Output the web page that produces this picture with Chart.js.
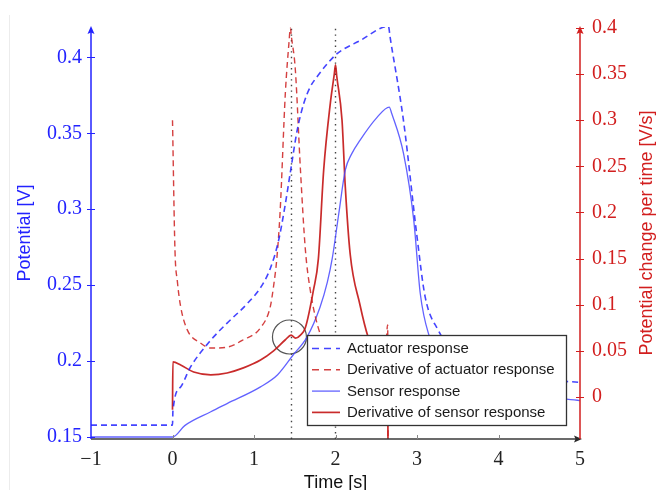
<!DOCTYPE html>
<html><head><meta charset="utf-8">
<script src="https://cdn.jsdelivr.net/npm/chart.js@4.4.1/dist/chart.umd.min.js"></script>
<style>html,body{margin:0;padding:0;background:#fff;}canvas{display:block;}</style>
</head><body>
<canvas id="c" width="661" height="490"></canvas>
<script>
// ---------------- data ----------------
const seriesNames = ['Actuator response', 'Derivative of actuator response', 'Sensor response', 'Derivative of sensor response'];

const actuatorT = [-1, 0, 0.005, 0.1, 0.22, 0.47, 0.67, 0.92, 1.1, 1.2, 1.3, 1.38, 1.45, 1.53, 1.61, 1.69, 1.77, 1.9, 2.02, 2.3, 2.65, 2.67, 2.835, 3.0, 3.1, 3.26, 3.5, 4.0, 4.5, 5.0];
const actuatorV = [0.1578, 0.1578, 0.167, 0.183, 0.196, 0.2138, 0.225, 0.238, 0.25, 0.261, 0.279, 0.302, 0.3257, 0.352, 0.3696, 0.3805, 0.387, 0.3958, 0.4025, 0.411, 0.4204, 0.4133, 0.358, 0.282, 0.2423, 0.2204, 0.203, 0.193, 0.188, 0.186];

const actuatorDerivT = [0, 0.03, 0.06, 0.1, 0.18, 0.34, 0.47, 0.67, 0.87, 1.08, 1.2, 1.24, 1.28, 1.32, 1.385, 1.43, 1.446, 1.46, 1.507, 1.57, 1.63, 1.69, 1.81, 2.0, 2.3, 2.6, 2.64, 2.65];
const actuatorDerivV = [0.30, 0.16, 0.125, 0.098, 0.073, 0.0586, 0.053, 0.054, 0.062, 0.075, 0.098, 0.12, 0.15, 0.2, 0.33, 0.385, 0.40, 0.39, 0.355, 0.246, 0.16, 0.116, 0.069, 0.045, 0.032, 0.027, 0.078, -0.3];

const sensorT = [-1, 0, 0.15, 0.47, 0.67, 1.08, 1.29, 1.48, 1.65, 1.81, 1.9, 1.96, 2.04, 2.12, 2.2, 2.3, 2.51, 2.66, 2.69, 2.835, 2.96, 3.04, 3.14, 3.4, 4.0, 4.5, 5.0];
const sensorV = [0.1500, 0.1500, 0.1575, 0.1666, 0.172, 0.183, 0.191, 0.204, 0.2158, 0.2355, 0.252, 0.2676, 0.297, 0.3257, 0.3366, 0.3454, 0.3605, 0.3673, 0.363, 0.3366, 0.2928, 0.2445, 0.2182, 0.195, 0.182, 0.177, 0.174];

const sensorDerivT = [0, 0.005, 0.1, 0.26, 0.47, 0.67, 0.87, 1.08, 1.24, 1.385, 1.455, 1.51, 1.57, 1.63, 1.73, 1.79, 1.855, 1.936, 1.985, 2.0, 2.015, 2.08, 2.12, 2.18, 2.3, 2.4, 2.5, 2.64, 2.655];
const sensorDerivV = [-0.014, 0.038, 0.0347, 0.027, 0.024, 0.026, 0.0315, 0.040, 0.05, 0.062, 0.067, 0.0637, 0.067, 0.075, 0.116, 0.15, 0.246, 0.318, 0.35, 0.36, 0.348, 0.30, 0.228, 0.155, 0.1, 0.065, 0.045, 0.03, -0.3];

const markerTimes = [1.46, 2.0];
const circleT = [1.435];
const circleV = [0.065];

const xTickValues = [-1, 0, 1, 2, 3, 4, 5];
const xTickLabels = ['\u22121', '0', '1', '2', '3', '4', '5'];
const leftTickValues = [0.15, 0.2, 0.25, 0.3, 0.35, 0.4];
const leftTickLabels = ['0.15', '0.2', '0.25', '0.3', '0.35', '0.4'];
const rightTickValues = [0, 0.05, 0.1, 0.15, 0.2, 0.25, 0.3, 0.35, 0.4];
const rightTickLabels = ['0', '0.05', '0.1', '0.15', '0.2', '0.25', '0.3', '0.35', '0.4'];

const leftRange = [0.14868, 0.42];
const rightRange = [-0.0456, 0.4011];

// ---------------- styles ----------------
const BLUE = '#2323ff';
const RED = '#d21e1e';
const zip = (t, v) => t.map((x, i) => ({x: x, y: v[i]}));

const datasets = [
  {label: seriesNames[0], data: zip(actuatorT, actuatorV), yAxisID: 'y',
   borderColor: 'rgba(35,35,255,0.85)', borderWidth: 1.6, borderDash: [6, 4]},
  {label: seriesNames[1], data: zip(actuatorDerivT, actuatorDerivV), yAxisID: 'y2',
   borderColor: 'rgba(205,30,30,0.85)', borderWidth: 1.4, borderDash: [6, 4]},
  {label: seriesNames[2], data: zip(sensorT, sensorV), yAxisID: 'y',
   borderColor: 'rgba(70,70,255,0.85)', borderWidth: 1.3},
  {label: seriesNames[3], data: zip(sensorDerivT, sensorDerivV), yAxisID: 'y2',
   borderColor: 'rgba(195,20,20,0.9)', borderWidth: 1.7}
].map(d => Object.assign({pointRadius: 0, cubicInterpolationMode: 'monotone', fill: false, legendItem: true}, d));

markerTimes.forEach(t => datasets.push({
  label: '', data: [{x: t, y: leftRange[0]}, {x: t, y: leftRange[1]}], yAxisID: 'y',
  borderColor: '#444', borderWidth: 1.4, borderDash: [1.4, 4.2], pointRadius: 0
}));

datasets.push({
  label: '', data: zip(circleT, circleV), yAxisID: 'y2', showLine: false,
  pointRadius: 17, pointBorderWidth: 1.2, pointBorderColor: '#555',
  pointBackgroundColor: 'rgba(0,0,0,0)', clip: false
});

// ---------------- custom drawing (axis lines, arrows, right title, legend) ----------------
function arrowHead(ctx, x, y, dir, color) {
  ctx.fillStyle = color;
  ctx.beginPath();
  if (dir === 'up') { ctx.moveTo(x, y); ctx.lineTo(x - 3.5, y + 8); ctx.lineTo(x, y + 6.5); ctx.lineTo(x + 3.5, y + 8); }
  else { ctx.moveTo(x, y); ctx.lineTo(x - 8, y - 3.5); ctx.lineTo(x - 6.5, y); ctx.lineTo(x - 8, y + 3.5); }
  ctx.closePath(); ctx.fill();
}
function seg(ctx, x1, y1, x2, y2) { ctx.beginPath(); ctx.moveTo(x1, y1); ctx.lineTo(x2, y2); ctx.stroke(); }

const pgfPlugin = {
  id: 'pgf',
  afterDraw(chart) {
    const {ctx, chartArea: a, scales} = chart;
    const xs = scales.x, yl = scales.y, yr = scales.y2;
    ctx.save();
    // faint frame line at far left
    ctx.strokeStyle = '#ececec'; ctx.lineWidth = 1;
    seg(ctx, 9.5, 15, 9.5, 490);

    // x axis
    ctx.strokeStyle = '#3a3a3a'; ctx.lineWidth = 1.4;
    seg(ctx, a.left, a.bottom, a.right - 4, a.bottom);
    arrowHead(ctx, a.right + 2, a.bottom, 'right', '#2a2a2a');
    ctx.strokeStyle = '#888'; ctx.lineWidth = 1;
    xs.ticks.forEach(t => {
      if (t.value > xs.min && t.value < xs.max) {
        const px = Math.round(xs.getPixelForValue(t.value)) + 0.5;
        seg(ctx, px, a.bottom, px, a.bottom - 4);
      }
    });

    // left axis
    ctx.strokeStyle = BLUE; ctx.lineWidth = 1.5;
    seg(ctx, a.left, a.bottom, a.left, a.top + 4);
    arrowHead(ctx, a.left, a.top - 1, 'up', BLUE);
    ctx.lineWidth = 1;
    yl.ticks.forEach(t => {
      const py = Math.round(yl.getPixelForValue(t.value)) + 0.5;
      seg(ctx, a.left - 4, py, a.left + 4, py);
    });

    // right axis
    ctx.strokeStyle = RED; ctx.lineWidth = 1.5;
    seg(ctx, a.right, a.bottom, a.right, a.top + 4);
    arrowHead(ctx, a.right, a.top - 1, 'up', RED);
    ctx.lineWidth = 1;
    yr.ticks.forEach(t => {
      const py = Math.round(yr.getPixelForValue(t.value)) + 0.5;
      seg(ctx, a.right - 4, py, a.right + 4, py);
    });

    // right axis title (reads bottom to top)
    ctx.save();
    ctx.translate(647, (a.top + a.bottom) / 2);
    ctx.rotate(-Math.PI / 2);
    ctx.fillStyle = RED;
    ctx.font = '18px "Liberation Sans", Arial, sans-serif';
    ctx.textAlign = 'center'; ctx.textBaseline = 'middle';
    ctx.fillText('Potential change per time [V/s]', 0, 0);
    ctx.restore();

    // legend box
    const L = {x: 307.5, y: 335.5, w: 259, h: 90, row0: 13, step: 21.3, lineX0: 312, lineX1: 340, textX: 347};
    ctx.fillStyle = '#fff';
    ctx.fillRect(L.x, L.y, L.w, L.h);
    ctx.strokeStyle = '#333'; ctx.lineWidth = 1.3;
    ctx.strokeRect(L.x, L.y, L.w, L.h);
    ctx.font = '15px "Liberation Sans", Arial, sans-serif';
    ctx.textAlign = 'left'; ctx.textBaseline = 'middle';
    chart.data.datasets.filter(d => d.legendItem).forEach((d, i) => {
      const y = L.y + L.row0 + i * L.step;
      ctx.save();
      ctx.strokeStyle = d.borderColor; ctx.lineWidth = d.borderWidth;
      ctx.setLineDash(d.borderDash ? [7, 5] : []);
      seg(ctx, L.lineX0, y, L.lineX1, y);
      ctx.restore();
      ctx.fillStyle = '#1a1a1a';
      ctx.fillText(d.label, L.textX, y + 0.5);
    });
    ctx.restore();
  }
};

const serif = {family: '"Liberation Serif", "DejaVu Serif", serif', size: 20};

new Chart(document.getElementById('c'), {
  type: 'line',
  data: {datasets: datasets},
  options: {
    responsive: false, animation: false, devicePixelRatio: 1, events: [],
    layout: {padding: {top: 27, left: 0, right: 0, bottom: 0}},
    plugins: {legend: {display: false}, tooltip: {enabled: false}},
    scales: {
      x: {
        type: 'linear', min: -1, max: 5,
        afterBuildTicks: s => { s.ticks = xTickValues.map(v => ({value: v})); },
        afterFit: s => { s.height = 51; },
        ticks: {callback: (v, i) => xTickLabels[i], font: serif, color: '#222', padding: 9, autoSkip: false, maxRotation: 0},
        grid: {display: false, drawTicks: false}, border: {display: false},
        title: {display: true, text: 'Time [s]', color: '#111', padding: 0,
                font: {family: '"Liberation Sans", Arial, sans-serif', size: 18, lineHeight: 0.8}}
      },
      y: {
        type: 'linear', position: 'left', min: leftRange[0], max: leftRange[1],
        afterBuildTicks: s => { s.ticks = leftTickValues.map(v => ({value: v})); },
        afterFit: s => { s.width = 91; },
        ticks: {callback: (v, i) => leftTickLabels[i], font: serif, color: BLUE, padding: 9, autoSkip: false},
        grid: {display: false, drawTicks: false}, border: {display: false},
        title: {display: true, text: 'Potential [V]', color: BLUE, padding: {top: 14, bottom: 0},
                font: {family: '"Liberation Sans", Arial, sans-serif', size: 18}}
      },
      y2: {
        type: 'linear', position: 'right', min: rightRange[0], max: rightRange[1],
        afterBuildTicks: s => { s.ticks = rightTickValues.map(v => ({value: v})); },
        afterFit: s => { s.width = 81; },
        ticks: {callback: (v, i) => rightTickLabels[i], font: serif, color: RED, padding: 12, autoSkip: false},
        grid: {display: false, drawTicks: false}, border: {display: false},
        title: {display: false}
      }
    }
  },
  plugins: [pgfPlugin]
});
</script>
</body></html>
